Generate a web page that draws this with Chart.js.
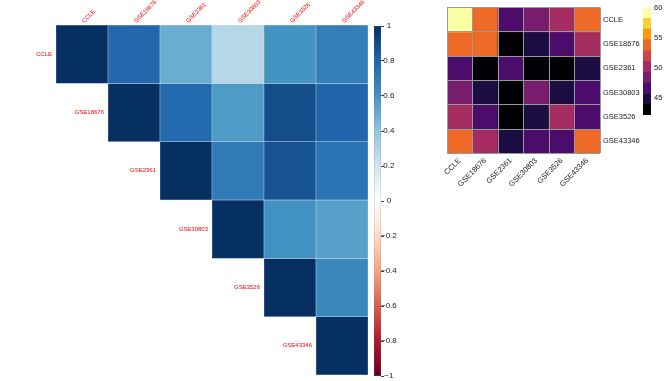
<!DOCTYPE html>
<html>
<head>
<meta charset="utf-8">
<script src="https://cdn.jsdelivr.net/npm/chart.js@4"></script>
<style>
  html, body { margin: 0; padding: 0; background: #fff; }
  body { width: 664px; height: 381px; position: relative; overflow: hidden; }
  canvas { position: absolute; }
</style>
</head>
<body>
<canvas id="corrChart" width="372" height="381" style="left:0;top:0"></canvas>
<canvas id="corrLegend" width="32" height="381" style="left:372px;top:0"></canvas>
<canvas id="heatChart" width="240" height="200" style="left:400px;top:0"></canvas>
<canvas id="heatLegend" width="24" height="125" style="left:640px;top:0"></canvas>
<script>
// dataset names, used for rows and columns of both matrices
const datasetNames = ['CCLE', 'GSE18676', 'GSE2361', 'GSE30803', 'GSE3526', 'GSE43346'];

// left: correlation matrix, upper triangle only (null = empty)
const corrCCLE     = [1, 0.79, 0.50, 0.29, 0.60, 0.69];
const corrGSE18676 = [null, 1, 0.78, 0.57, 0.89, 0.80];
const corrGSE2361  = [null, null, 1, 0.71, 0.87, 0.74];
const corrGSE30803 = [null, null, null, 1, 0.61, 0.55];
const corrGSE3526  = [null, null, null, null, 1, 0.65];
const corrGSE43346 = [null, null, null, null, null, 1];
const corrTicks = [-1, -0.8, -0.6, -0.4, -0.2, 0, 0.2, 0.4, 0.6, 0.8, 1];

// right: heatmap values
const heatCCLE     = [60.1, 53.9, 46.5, 48.3, 50.1, 53.7];
const heatGSE18676 = [53.9, 54.2, 42.1, 44.6, 46.8, 50.4];
const heatGSE2361  = [46.5, 42.1, 46.9, 42.8, 43.2, 44.9];
const heatGSE30803 = [48.3, 44.6, 42.8, 48.6, 44.5, 46.4];
const heatGSE3526  = [50.1, 46.8, 43.2, 44.5, 50.6, 46.7];
const heatGSE43346 = [53.7, 50.4, 44.9, 46.4, 46.7, 54.0];
const heatBreaks = [42.1, 43.9, 45.7, 47.5, 49.3, 51.1, 52.9, 54.7, 56.5, 58.3, 60.1];
const heatTicks = [45, 50, 55, 60];

// palettes
const rdbu = ['#67001F', '#B2182B', '#D6604D', '#F4A582', '#FDDBC7', '#FFFFFF',
              '#D1E5F0', '#92C5DE', '#4393C3', '#2166AC', '#053061'];
const inferno = ['#000004', '#1B0C42', '#4B0C6B', '#781C6D', '#A52C60',
                 '#CF4446', '#ED6925', '#FB9A06', '#F7D03C', '#FCFFA4'];

Chart.defaults.font.family = '"Liberation Sans", Arial, sans-serif';

function hexRgb(h) {
  return [1, 3, 5].map(i => parseInt(h.slice(i, i + 2), 16));
}

function corrColor(v) {
  const t = (v + 1) / 2 * (rdbu.length - 1);
  const k = Math.min(Math.floor(t), rdbu.length - 2);
  const f = t - k;
  const a = hexRgb(rdbu[k]), b = hexRgb(rdbu[k + 1]);
  const c = a.map((x, i) => Math.round(x + (b[i] - x) * f));
  return `rgb(${c[0]},${c[1]},${c[2]})`;
}

function heatColor(v) {
  let k = 0;
  while (k < inferno.length - 1 && v >= heatBreaks[k + 1]) k++;
  return inferno[k];
}

function fmtTick(v) {
  return (Math.round(v * 10) / 10).toString().replace('-', '\u2212');
}

const baseOpts = {
  responsive: false,
  animation: false,
  devicePixelRatio: 1,
  plugins: { legend: { display: false }, tooltip: { enabled: false } }
};

// red row / column labels around the triangle
const corrLabels = {
  id: 'corrLabels',
  afterDraw(chart) {
    const { ctx, chartArea, scales: { x, y } } = chart;
    const half = (x.getPixelForValue(1) - x.getPixelForValue(0)) / 2;
    ctx.save();
    ctx.fillStyle = '#ff0000';
    ctx.font = '6px "Liberation Sans", Arial, sans-serif';
    datasetNames.forEach((name, i) => {
      ctx.save();
      ctx.translate(x.getPixelForValue(i) + 1, chartArea.top - 3);
      ctx.rotate(-Math.PI / 4);
      ctx.textAlign = 'left';
      ctx.textBaseline = 'middle';
      ctx.fillText(name, 0, 0);
      ctx.restore();
      ctx.textAlign = 'right';
      ctx.textBaseline = 'middle';
      ctx.fillText(name, x.getPixelForValue(i) - half - 4, y.getPixelForValue(i + 0.5));
    });
    ctx.restore();
  }
};

const corrRows = [corrCCLE, corrGSE18676, corrGSE2361, corrGSE30803, corrGSE3526, corrGSE43346];

new Chart(document.getElementById('corrChart'), {
  type: 'bar',
  data: {
    labels: datasetNames,
    datasets: corrRows.map((row, i) => ({
      data: row.map(v => v === null ? null : [i, i + 1]),
      backgroundColor: row.map(v => v === null ? 'rgba(0,0,0,0)' : corrColor(v)),
      borderColor: '#d6e0ea',
      borderWidth: 0.5,
      borderSkipped: false,
      grouped: false,
      barPercentage: 1,
      categoryPercentage: 1
    }))
  },
  options: {
    ...baseOpts,
    layout: { padding: { left: 56, right: 4, top: 25, bottom: 6 } },
    scales: {
      x: { display: false, offset: true },
      y: { display: false, min: 0, max: 6, reverse: true }
    }
  },
  plugins: [corrLabels]
});

// colour key for the correlations
new Chart(document.getElementById('corrLegend'), {
  type: 'bar',
  data: {
    labels: [''],
    datasets: [{
      data: [[corrTicks[0], corrTicks[corrTicks.length - 1]]],
      backgroundColor: ctx => {
        const chart = ctx.chart;
        if (!chart.chartArea) return rdbu[5];
        const y = chart.scales.y;
        const g = chart.ctx.createLinearGradient(0, y.getPixelForValue(-1), 0, y.getPixelForValue(1));
        rdbu.forEach((c, k) => g.addColorStop(k / (rdbu.length - 1), c));
        return g;
      },
      borderColor: '#555',
      borderWidth: 0.5,
      borderSkipped: false,
      barPercentage: 1,
      categoryPercentage: 1
    }]
  },
  options: {
    ...baseOpts,
    layout: { padding: { left: 2, right: 0, top: 26, bottom: 5 } },
    scales: {
      x: { display: false },
      y: {
        position: 'right',
        min: -1,
        max: 1,
        afterBuildTicks: s => { s.ticks = corrTicks.map(v => ({ value: v })); },
        afterFit: s => { s.width = 23; },
        ticks: { font: { size: 8 }, color: '#222', padding: -3, crossAlign: 'center', callback: v => fmtTick(v) },
        grid: { drawOnChartArea: false, tickLength: 3, color: '#444' },
        border: { display: false }
      }
    }
  }
});

const heatRows = [heatCCLE, heatGSE18676, heatGSE2361, heatGSE30803, heatGSE3526, heatGSE43346];

new Chart(document.getElementById('heatChart'), {
  type: 'bar',
  data: {
    labels: datasetNames,
    datasets: heatRows.map((row, i) => ({
      data: row.map(() => [i, i + 1]),
      backgroundColor: row.map(heatColor),
      borderWidth: 0,
      grouped: false,
      barPercentage: 1,
      categoryPercentage: 1,
      yAxisID: 'y'
    }))
  },
  options: {
    ...baseOpts,
    layout: { padding: { left: 47, right: 0, top: 3.3, bottom: 0 } },
    scales: {
      x: {
        offset: true,
        grid: { offset: true, color: '#999', z: 1, drawTicks: false },
        border: { display: false },
        ticks: { minRotation: 45, maxRotation: 45, autoSkip: false, font: { size: 7.5 }, color: '#222', padding: 3 },
        afterFit: s => { s.height = 46.7; }
      },
      y: {
        position: 'left',
        min: 0,
        max: 6,
        reverse: true,
        ticks: { display: false, stepSize: 1 },
        grid: { color: '#999', z: 1, drawTicks: false },
        border: { display: false }
      },
      yl: {
        type: 'category',
        labels: datasetNames,
        position: 'right',
        offset: true,
        grid: { display: false, drawTicks: false },
        border: { display: false },
        ticks: { font: { size: 7.5 }, color: '#222', padding: 3 },
        afterFit: s => { s.width = 40; }
      }
    }
  }
});

// binned colour key for the heatmap
new Chart(document.getElementById('heatLegend'), {
  type: 'bar',
  data: {
    labels: [''],
    datasets: inferno.map((c, k) => ({
      data: [[heatBreaks[k], heatBreaks[k + 1]]],
      backgroundColor: c,
      borderWidth: 0,
      grouped: false,
      barPercentage: 1,
      categoryPercentage: 1
    }))
  },
  options: {
    ...baseOpts,
    layout: { padding: { left: 3, right: 0, top: 3.3, bottom: 10 } },
    scales: {
      x: { display: false },
      y: {
        position: 'right',
        min: heatBreaks[0],
        max: heatBreaks[heatBreaks.length - 1],
        afterBuildTicks: s => { s.ticks = heatTicks.map(v => ({ value: v })); },
        afterFit: s => { s.width = 13; },
        ticks: { font: { size: 7.5 }, color: '#222', padding: 3 },
        grid: { display: false, drawTicks: false },
        border: { display: false }
      }
    }
  }
});
</script>
</body>
</html>
